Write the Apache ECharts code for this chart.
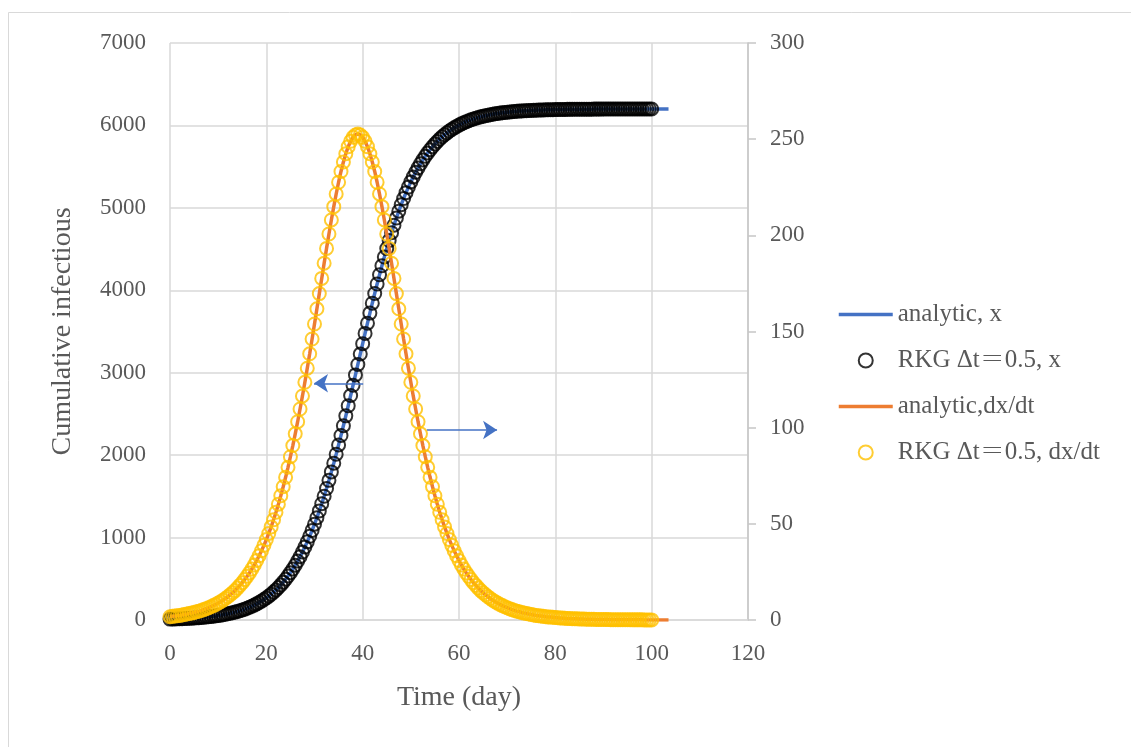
<!DOCTYPE html>
<html>
<head>
<meta charset="utf-8">
<script src="https://cdn.jsdelivr.net/npm/echarts@6/dist/echarts.min.js"></script>
<style>
html,body{margin:0;padding:0;background:#fff;}
#chart{width:1131px;height:747px;}
</style>
</head>
<body>
<div id="chart"></div>
<script>
// Time (day), step 0.5
const times = [
0,0.5,1,1.5,2,2.5,3,3.5,4,4.5,5,5.5,6,6.5,7,7.5,8,8.5,9,9.5,
10,10.5,11,11.5,12,12.5,13,13.5,14,14.5,15,15.5,16,16.5,17,17.5,18,18.5,19,19.5,
20,20.5,21,21.5,22,22.5,23,23.5,24,24.5,25,25.5,26,26.5,27,27.5,28,28.5,29,29.5,
30,30.5,31,31.5,32,32.5,33,33.5,34,34.5,35,35.5,36,36.5,37,37.5,38,38.5,39,39.5,
40,40.5,41,41.5,42,42.5,43,43.5,44,44.5,45,45.5,46,46.5,47,47.5,48,48.5,49,49.5,
50,50.5,51,51.5,52,52.5,53,53.5,54,54.5,55,55.5,56,56.5,57,57.5,58,58.5,59,59.5,
60,60.5,61,61.5,62,62.5,63,63.5,64,64.5,65,65.5,66,66.5,67,67.5,68,68.5,69,69.5,
70,70.5,71,71.5,72,72.5,73,73.5,74,74.5,75,75.5,76,76.5,77,77.5,78,78.5,79,79.5,
80,80.5,81,81.5,82,82.5,83,83.5,84,84.5,85,85.5,86,86.5,87,87.5,88,88.5,89,89.5,
90,90.5,91,91.5,92,92.5,93,93.5,94,94.5,95,95.5,96,96.5,97,97.5,98,98.5,99,99.5,
100,100.5,101,101.5,102,102.5,103,103.5
];

// Cumulative infectious x (left axis)
const xValues = [
10.7,11.6,12.6,13.7,14.8,16.1,17.5,19.0,20.6,22.3,24.2,26.2,28.4,30.8,33.5,36.3,39.4,42.7,46.3,50.2,
54.4,59.0,63.9,69.3,75.2,81.4,88.2,95.6,103.6,112.2,121.6,131.7,142.6,154.4,167.2,180.9,195.8,211.9,229.2,247.9,
268.0,289.7,313.1,338.2,365.3,394.3,425.5,458.9,494.8,533.2,574.3,618.2,665.0,715.0,768.2,824.7,884.8,948.4,1015.7,1086.8,
1161.8,1240.8,1323.6,1410.5,1501.3,1595.9,1694.4,1796.6,1902.4,2011.5,2123.8,2239.0,2356.8,2477.0,2599.1,2722.9,2847.9,2973.7,3100.0,3226.3,
3352.1,3477.1,3600.9,3723.0,3843.2,3961.0,4076.2,4188.5,4297.6,4403.4,4505.6,4604.1,4698.7,4789.5,4876.4,4959.2,5038.2,5113.2,5184.3,5251.6,
5315.2,5375.3,5431.8,5485.0,5535.0,5581.8,5625.7,5666.8,5705.2,5741.1,5774.5,5805.7,5834.7,5861.8,5886.9,5910.3,5932.0,5952.1,5970.8,5988.1,
6004.2,6019.1,6032.8,6045.6,6057.4,6068.3,6078.4,6087.8,6096.4,6104.4,6111.8,6118.6,6124.8,6130.7,6136.1,6141.0,6145.6,6149.8,6153.7,6157.3,
6160.6,6163.7,6166.5,6169.2,6171.6,6173.8,6175.8,6177.7,6179.4,6181.0,6182.5,6183.9,6185.2,6186.3,6187.4,6188.4,6189.3,6190.1,6190.9,6191.6,
6192.3,6192.9,6193.4,6193.9,6194.4,6194.9,6195.3,6195.6,6196.0,6196.3,6196.6,6196.8,6197.1,6197.3,6197.5,6197.7,6197.9,6198.1,6198.2,6198.4,
6198.5,6198.6,6198.7,6198.8,6198.9,6199.0,6199.1,6199.1,6199.2,6199.3,6199.3,6199.4,6199.4,6199.5,6199.5,6199.6,6199.6,6199.6,6199.7,6199.7,
6199.7,6199.8,6199.8,6199.8,6199.8,6199.8,6199.9,6199.9
];

// dx/dt (right axis)
const dxdtValues = [
1.7,1.9,2.1,2.2,2.4,2.6,2.9,3.1,3.4,3.6,3.9,4.3,4.6,5.0,5.4,5.9,6.4,6.9,7.5,8.1,
8.8,9.5,10.3,11.2,12.1,13.1,14.2,15.3,16.6,18.0,19.4,21.0,22.7,24.5,26.5,28.6,30.9,33.4,36.0,38.8,
41.8,45.0,48.4,52.1,56.0,60.2,64.6,69.3,74.2,79.4,84.9,90.7,96.8,103.1,109.7,116.5,123.6,130.9,138.4,146.1,
153.9,161.8,169.7,177.6,185.5,193.2,200.7,208.0,214.9,221.5,227.6,233.2,238.1,242.4,246.1,248.9,251.0,252.2,252.7,252.2,
251.0,248.9,246.1,242.4,238.1,233.2,227.6,221.5,214.9,208.0,200.7,193.2,185.5,177.6,169.7,161.8,153.9,146.1,138.4,130.9,
123.6,116.5,109.7,103.1,96.8,90.7,84.9,79.4,74.2,69.3,64.6,60.2,56.0,52.1,48.4,45.0,41.8,38.8,36.0,33.4,
30.9,28.6,26.5,24.5,22.7,21.0,19.4,18.0,16.6,15.3,14.2,13.1,12.1,11.2,10.3,9.5,8.8,8.1,7.5,6.9,
6.4,5.9,5.4,5.0,4.6,4.3,3.9,3.6,3.4,3.1,2.9,2.6,2.4,2.2,2.1,1.9,1.7,1.6,1.5,1.4,
1.3,1.2,1.1,1.0,0.91,0.84,0.77,0.71,0.66,0.61,0.56,0.51,0.47,0.44,0.40,0.37,0.34,0.32,0.29,0.27,
0.25,0.23,0.21,0.19,0.18,0.16,0.15,0.14,0.13,0.12,0.11,0.10,0.09,0.09,0.08,0.07,0.07,0.06,0.06,0.05,
0.05,0.04,0.04,0.04,0.04,0.03,0.03,0.03
];

// RKG (dt = 0.5) values are plotted up to t = 100
const rkgEndTime = 100;

// Annotation arrows (data coordinates)
const arrowLeft = [[40.1, 2872], [29.9, 2872]];   // left axis
const arrowRight = [[53.3, 98.8], [67.9, 98.8]];  // right axis

const legendNames = ['analytic, x', 'RKG \u0394t\uFF1D0.5, x', 'analytic,dx/dt', 'RKG \u0394t\uFF1D0.5, dx/dt'];

const xAxisTicks = {min: 0, max: 120, interval: 20};
const leftTicks = {min: 0, max: 7000, interval: 1000};
const rightTicks = {min: 0, max: 300, interval: 50};

const pairs = (vals) => times.map((t, i) => [t, vals[i]]);
const rkgPairs = (vals) => times.map((t, i) => [t, vals[i]]).filter(p => p[0] <= rkgEndTime);

const FONT = '"Liberation Serif", "Noto Serif CJK JP", serif';
const TXT = '#595959';
const GRID = '#d9d9d9';
const BLUE = '#4472C4', ORANGE = '#ED7D31', GOLD = '#FFC000';

const chart = echarts.init(document.getElementById('chart'));
chart.setOption({
  animation: false,
  backgroundColor: '#fff',
  textStyle: {fontFamily: FONT, color: TXT},
  graphic: [{
    type: 'rect', silent: true, z: -10,
    shape: {x: 8.5, y: 12.5, width: 1140, height: 760},
    style: {fill: 'none', stroke: GRID, lineWidth: 1}
  }],
  grid: {left: 170, right: 383, top: 43, bottom: 127, containLabel: false},
  legend: {
    orient: 'vertical',
    left: 832, top: 297,
    itemWidth: 54, itemHeight: 14, itemGap: 21,
    textStyle: {fontFamily: FONT, fontSize: 25, color: TXT},
    data: [
      {name: legendNames[0], itemStyle: {opacity: 0}, lineStyle: {color: BLUE, width: 3.5, opacity: 1}},
      {name: legendNames[1], icon: 'circle', itemStyle: {color: 'rgba(0,0,0,0)', borderColor: '#000', borderWidth: 2}},
      {name: legendNames[2], itemStyle: {opacity: 0}, lineStyle: {color: ORANGE, width: 3.5, opacity: 1}},
      {name: legendNames[3], icon: 'circle', itemStyle: {color: 'rgba(0,0,0,0)', borderColor: GOLD, borderWidth: 2}}
    ]
  },
  xAxis: {
    type: 'value', min: xAxisTicks.min, max: xAxisTicks.max, interval: xAxisTicks.interval,
    name: 'Time (day)', nameLocation: 'middle', nameGap: 64,
    nameTextStyle: {fontFamily: FONT, fontSize: 28, color: TXT},
    axisLine: {show: true, lineStyle: {color: GRID, width: 1.5}},
    axisTick: {show: false},
    axisLabel: {fontFamily: FONT, fontSize: 23, color: TXT, margin: 22},
    splitLine: {show: true, lineStyle: {color: GRID, width: 1.5}}
  },
  yAxis: [{
    type: 'value', min: leftTicks.min, max: leftTicks.max, interval: leftTicks.interval,
    name: 'Cumulative infectious', nameLocation: 'middle', nameGap: 93, nameRotate: 90,
    nameTextStyle: {fontFamily: FONT, fontSize: 28, color: TXT},
    axisLine: {show: false}, axisTick: {show: false},
    axisLabel: {fontFamily: FONT, fontSize: 23, color: TXT, margin: 24, formatter: (v) => String(v)},
    splitLine: {show: true, lineStyle: {color: GRID, width: 1.5}}
  }, {
    type: 'value', min: rightTicks.min, max: rightTicks.max, interval: rightTicks.interval,
    position: 'right',
    axisLine: {show: true, lineStyle: {color: '#c6c6c6', width: 1.5}},
    axisTick: {show: true, inside: false, length: 8, lineStyle: {color: '#c6c6c6', width: 1.5}},
    axisLabel: {fontFamily: FONT, fontSize: 23, color: TXT, margin: 22},
    splitLine: {show: false}
  }],
  series: [{
    name: legendNames[0], type: 'line', yAxisIndex: 0,
    data: pairs(xValues), symbol: 'none', showSymbol: false,
    lineStyle: {color: BLUE, width: 3.5}, itemStyle: {color: BLUE}, z: 2,
    markLine: {
      silent: true, symbol: ['none', 'arrow'], symbolSize: 14,
      label: {show: false},
      lineStyle: {color: BLUE, width: 1.5, type: 'solid'},
      data: [[{coord: arrowLeft[0]}, {coord: arrowLeft[1]}]]
    }
  }, {
    name: legendNames[1], type: 'scatter', yAxisIndex: 0,
    data: rkgPairs(xValues), symbol: 'circle', symbolSize: 13,
    itemStyle: {color: 'rgba(0,0,0,0)', borderColor: '#000', borderWidth: 2}, z: 3
  }, {
    name: legendNames[2], type: 'line', yAxisIndex: 1,
    data: pairs(dxdtValues), symbol: 'none', showSymbol: false,
    lineStyle: {color: ORANGE, width: 3.5}, itemStyle: {color: ORANGE}, z: 4,
    markLine: {
      silent: true, symbol: ['none', 'arrow'], symbolSize: 14,
      label: {show: false},
      lineStyle: {color: BLUE, width: 1.5, type: 'solid'},
      data: [[{coord: arrowRight[0]}, {coord: arrowRight[1]}]]
    }
  }, {
    name: legendNames[3], type: 'scatter', yAxisIndex: 1,
    data: rkgPairs(dxdtValues), symbol: 'circle', symbolSize: 13,
    itemStyle: {color: 'rgba(0,0,0,0)', borderColor: GOLD, borderWidth: 2}, z: 5
  }]
});
</script>
</body>
</html>
